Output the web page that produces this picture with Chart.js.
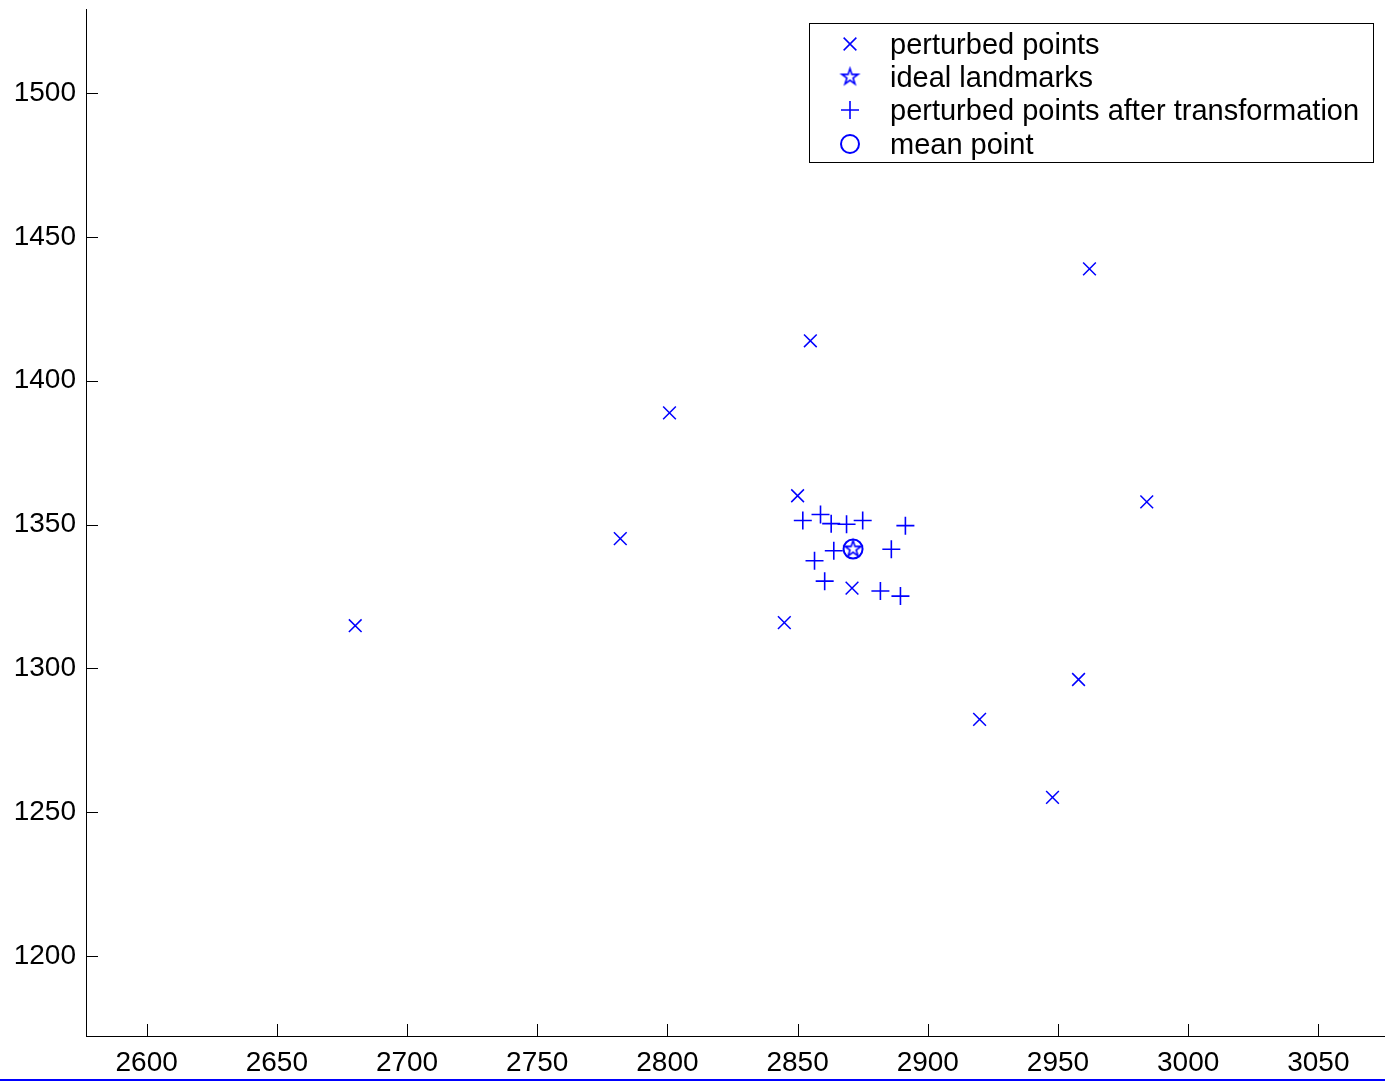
<!DOCTYPE html>
<html>
<head>
<meta charset="utf-8">
<title>Landmark perturbation</title>
<style>
  html, body { margin: 0; padding: 0; background: #ffffff; overflow: hidden; }
  #wrap { position: relative; width: 1385px; height: 1081px; }
  canvas { display: block; }
  #rule { position: absolute; left: 0; top: 1079px; width: 1385px; height: 2px; background: #0000ff; }
</style>
<script src="https://cdn.jsdelivr.net/npm/chart.js@4/dist/chart.umd.min.js"></script>
</head>
<body>
<div id="wrap">
  <canvas id="chart" width="1385" height="1079"></canvas>
  <div id="rule"></div>
</div>
<script>
// Raw perturbed landmark positions
const perturbedX = [2680.1, 2781.9, 2800.8, 2854.9, 2850.0, 2844.9, 2870.9, 2919.9, 2947.9, 2957.9, 2962.1, 2984.1];
const perturbedY = [1314.8, 1345.1, 1388.8, 1413.9, 1360.0, 1315.9, 1327.9, 1282.2, 1255.1, 1296.1, 1438.9, 1357.9];

// Ideal landmark location
const idealX = [2871.3];
const idealY = [1341.5];

// Perturbed points after the alignment transform
const transformedX = [2852.0, 2858.8, 2862.9, 2868.8, 2875.0, 2891.4, 2863.9, 2856.5, 2886.0, 2860.4, 2881.8, 2889.5];
const transformedY = [1351.4, 1353.5, 1350.3, 1350.1, 1351.4, 1349.6, 1340.9, 1337.4, 1341.4, 1330.3, 1326.9, 1325.1];

// Mean of the transformed points
const meanX = [2871.3];
const meanY = [1341.5];

const seriesLabels = ['perturbed points', 'ideal landmarks', 'perturbed points after transformation', 'mean point'];

// Axis ticks and limits
const xTicks = [2600, 2650, 2700, 2750, 2800, 2850, 2900, 2950, 3000, 3050];
const yTicks = [1200, 1250, 1300, 1350, 1400, 1450, 1500];
const xLimits = [2576.7, 3075.6];
const yLimits = [1172.1, 1529.3];

const BLUE = '#0000ff';
const FONT = '"Liberation Sans", Arial, Helvetica, sans-serif';

function toPoints(xs, ys) {
  return xs.map((x, i) => ({ x: x, y: ys[i] }));
}

// Five-pointed star marker drawn onto a small canvas
function makePentagram(outerR, lineWidth) {
  const size = Math.ceil(outerR * 2 + lineWidth * 2 + 2);
  const cv = document.createElement('canvas');
  cv.width = size; cv.height = size;
  const g = cv.getContext('2d');
  const c = size / 2;
  const innerR = outerR * 0.382;
  g.beginPath();
  for (let i = 0; i < 10; i++) {
    const r = i % 2 === 0 ? outerR : innerR;
    const a = -Math.PI / 2 + i * Math.PI / 5;
    const px = c + r * Math.cos(a);
    const py = c + r * Math.sin(a);
    if (i === 0) g.moveTo(px, py); else g.lineTo(px, py);
  }
  g.closePath();
  g.strokeStyle = BLUE;
  g.lineWidth = lineWidth;
  g.lineJoin = 'miter';
  g.stroke();
  return cv;
}
const pentagram = makePentagram(8.5, 1.6);

// Inward tick marks on the left and bottom axes
const inwardTicks = {
  id: 'inwardTicks',
  afterDraw(chart) {
    const ctx = chart.ctx;
    const area = chart.chartArea;
    const len = 12;
    ctx.save();
    ctx.strokeStyle = '#000000';
    ctx.lineWidth = 1;
    const xs = chart.scales.x;
    xs.ticks.forEach(t => {
      const px = Math.round(xs.getPixelForValue(t.value)) + 0.5;
      ctx.beginPath();
      ctx.moveTo(px, area.bottom);
      ctx.lineTo(px, area.bottom - len);
      ctx.stroke();
    });
    const ys = chart.scales.y;
    ys.ticks.forEach(t => {
      const py = Math.round(ys.getPixelForValue(t.value)) + 0.5;
      ctx.beginPath();
      ctx.moveTo(area.left, py);
      ctx.lineTo(area.left + len, py);
      ctx.stroke();
    });
    ctx.restore();
  }
};

// Boxed legend in the upper right of the plot
const boxLegend = {
  id: 'boxLegend',
  afterDraw(chart) {
    const ctx = chart.ctx;
    const box = { left: 809, top: 23, right: 1373, bottom: 162 };
    const rows = [44, 77, 110, 144];
    ctx.save();
    ctx.fillStyle = '#ffffff';
    ctx.fillRect(box.left, box.top, box.right - box.left, box.bottom - box.top);
    ctx.strokeStyle = '#000000';
    ctx.lineWidth = 1;
    ctx.strokeRect(box.left + 0.5, box.top + 0.5, box.right - box.left, box.bottom - box.top);
    chart.data.datasets.forEach((ds, i) => {
      const y = rows[i];
      const opts = {
        pointStyle: ds.pointStyle,
        radius: ds.legendRadius,
        rotation: 0,
        borderWidth: ds.borderWidth
      };
      ctx.save();
      ctx.strokeStyle = ds.borderColor;
      ctx.fillStyle = 'rgba(0,0,0,0)';
      ctx.lineWidth = ds.borderWidth;
      Chart.helpers.drawPoint(ctx, opts, 850, y);
      ctx.restore();
      ctx.fillStyle = '#000000';
      ctx.font = '29px ' + FONT;
      ctx.textAlign = 'left';
      ctx.textBaseline = 'middle';
      ctx.fillText(ds.label, 890, y + 2);
    });
    ctx.restore();
  }
};

const fixedTicks = (values) => (scale) => {
  scale.ticks = values.map(v => ({ value: v }));
};

new Chart(document.getElementById('chart'), {
  type: 'scatter',
  data: {
    datasets: [
      {
        label: seriesLabels[0],
        data: toPoints(perturbedX, perturbedY),
        pointStyle: 'crossRot',
        radius: 9,
        legendRadius: 9,
        borderWidth: 1.5,
        borderColor: BLUE,
        backgroundColor: 'rgba(0,0,0,0)'
      },
      {
        label: seriesLabels[1],
        data: toPoints(idealX, idealY),
        pointStyle: pentagram,
        radius: 9,
        legendRadius: 9,
        borderWidth: 1.5,
        borderColor: BLUE,
        backgroundColor: 'rgba(0,0,0,0)'
      },
      {
        label: seriesLabels[2],
        data: toPoints(transformedX, transformedY),
        pointStyle: 'cross',
        radius: 9,
        legendRadius: 9,
        borderWidth: 1.6,
        borderColor: BLUE,
        backgroundColor: 'rgba(0,0,0,0)'
      },
      {
        label: seriesLabels[3],
        data: toPoints(meanX, meanY),
        pointStyle: 'circle',
        radius: 9.5,
        legendRadius: 9,
        borderWidth: 2,
        borderColor: BLUE,
        backgroundColor: 'rgba(0,0,0,0)'
      }
    ]
  },
  options: {
    responsive: false,
    animation: false,
    events: [],
    layout: { autoPadding: false, padding: { top: 9, right: 0, bottom: 0, left: 0 } },
    plugins: {
      legend: { display: false },
      tooltip: { enabled: false },
      title: { display: false }
    },
    scales: {
      x: {
        type: 'linear',
        position: 'bottom',
        min: xLimits[0],
        max: xLimits[1],
        afterBuildTicks: fixedTicks(xTicks),
        afterFit(scale) {
          scale.height = 1079 - 1036;
          scale.paddingLeft = 0;
          scale.paddingRight = 0;
        },
        grid: { display: false, drawTicks: false },
        border: { display: true, color: '#000000', width: 1 },
        ticks: {
          color: '#000000',
          font: { family: FONT, size: 28 },
          padding: 10,
          maxRotation: 0,
          autoSkip: false,
          callback: (v) => String(v)
        }
      },
      y: {
        type: 'linear',
        position: 'left',
        min: yLimits[0],
        max: yLimits[1],
        afterBuildTicks: fixedTicks(yTicks),
        afterFit(scale) {
          scale.width = 86;
          scale.paddingTop = 0;
          scale.paddingBottom = 0;
        },
        grid: { display: false, drawTicks: false },
        border: { display: true, color: '#000000', width: 1 },
        ticks: {
          color: '#000000',
          font: { family: FONT, size: 28 },
          padding: 10,
          autoSkip: false,
          callback: (v) => String(v)
        }
      }
    }
  },
  plugins: [inwardTicks, boxLegend]
});
</script>
</body>
</html>
